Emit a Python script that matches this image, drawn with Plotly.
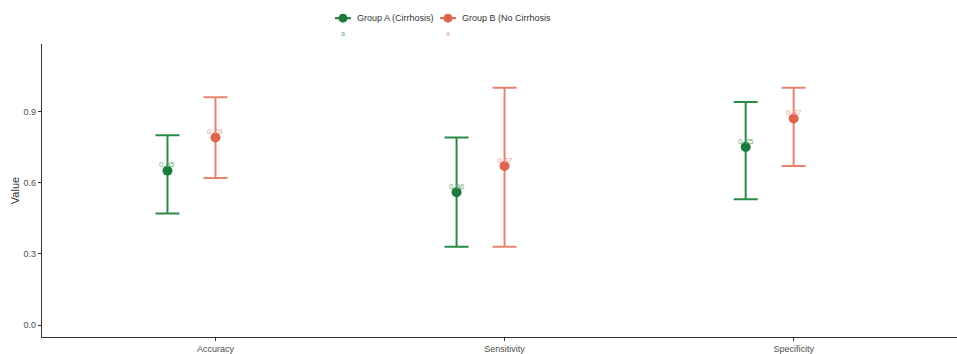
import plotly.graph_objects as go

# Metrics and per-group estimates with confidence bounds
metrics = ["Accuracy", "Sensitivity", "Specificity"]

group_a_name = "Group A (Cirrhosis)"
group_a_value = [0.65, 0.56, 0.75]
group_a_low = [0.47, 0.33, 0.53]
group_a_high = [0.80, 0.79, 0.94]

group_b_name = "Group B (No Cirrhosis"
group_b_value = [0.79, 0.67, 0.87]
group_b_low = [0.62, 0.33, 0.67]
group_b_high = [0.96, 1.00, 1.00]

y_ticks = [0.0, 0.3, 0.6, 0.9]

GREEN = "#1c7a3a"
GREEN_BAR = "#2a8a48"
GREEN_TXT = "#6fae80"
RED = "#e0634e"
RED_BAR = "#e8836f"
RED_TXT = "#eea293"

FONT = "Liberation Sans, Arial, sans-serif"

W, H = 957, 354
M_L, M_R, M_T, M_B = 42, 0, 44, 15
PLOT_W = W - M_L - M_R
PLOT_H = H - M_T - M_B


def px_x(px):
    return (px - M_L) / PLOT_W


def px_y(py):
    return (H - M_B - py) / PLOT_H


pos = list(range(len(metrics)))
dodge = 0.166

fig = go.Figure()


def add_group(name, vals, lo, hi, shift, col, bar_col, txt_col, key_x):
    xs = [p + shift for p in pos]
    fig.add_trace(go.Scatter(
        x=xs, y=vals, name=name, mode="markers",
        marker=dict(color=col, size=10),
        error_y=dict(type="data", symmetric=False,
                     array=[h - v for h, v in zip(hi, vals)],
                     arrayminus=[v - l for v, l in zip(vals, lo)],
                     color=bar_col, thickness=2, width=12),
        showlegend=False,
    ))
    # value labels just above each point
    for x, v in zip(xs, vals):
        fig.add_annotation(x=x, y=v, text=f"{v:.2f}", showarrow=False,
                           yshift=6, font=dict(size=8, color=txt_col, family=FONT))

    # legend key at the top: short line, dot, name, and a text glyph below
    ky = 18
    fig.add_shape(type="line", xref="paper", yref="paper",
                  x0=px_x(key_x - 8), x1=px_x(key_x + 8), y0=px_y(ky), y1=px_y(ky),
                  line=dict(color=col, width=2))
    r = 4.5
    fig.add_shape(type="circle", xref="paper", yref="paper",
                  x0=px_x(key_x - r), x1=px_x(key_x + r),
                  y0=px_y(ky + r), y1=px_y(ky - r),
                  fillcolor=col, line=dict(color=col, width=0))
    fig.add_annotation(xref="paper", yref="paper", x=px_x(key_x + 12), y=px_y(ky),
                       xanchor="left", yanchor="middle", text=name, showarrow=False,
                       font=dict(size=9, color="#333333", family=FONT))
    fig.add_annotation(xref="paper", yref="paper", x=px_x(key_x), y=px_y(33),
                       xanchor="center", yanchor="middle", text="a", showarrow=False,
                       font=dict(size=7, color=txt_col, family=FONT))


add_group(group_a_name, group_a_value, group_a_low, group_a_high,
          -dodge, GREEN, GREEN_BAR, GREEN_TXT, 343)
add_group(group_b_name, group_b_value, group_b_low, group_b_high,
          0.0, RED, RED_BAR, RED_TXT, 448)

axis_col = "#333333"
fig.update_layout(
    width=W, height=H,
    margin=dict(l=M_L, r=M_R, t=M_T, b=M_B),
    paper_bgcolor="white", plot_bgcolor="white",
    font=dict(family=FONT, size=9, color="#4d4d4d"),
    showlegend=False,
    xaxis=dict(range=[-0.6, 2.565], tickvals=pos, ticktext=metrics,
               showgrid=False, zeroline=False, showline=True,
               linecolor=axis_col, linewidth=1.2, ticks="outside",
               ticklen=3, tickcolor=axis_col,
               tickfont=dict(size=9, color="#4d4d4d")),
    yaxis=dict(range=[-0.05, 1.184], tickvals=y_ticks,
               tickformat=".1f", showgrid=False, zeroline=False,
               showline=True, linecolor=axis_col, linewidth=1.2,
               ticks="outside", ticklen=3, tickcolor=axis_col,
               tickfont=dict(size=9, color="#4d4d4d"),
               title=dict(text="Value", font=dict(size=11, color="#333333"),
                          standoff=1)),
)

fig.write_html("out.html")
